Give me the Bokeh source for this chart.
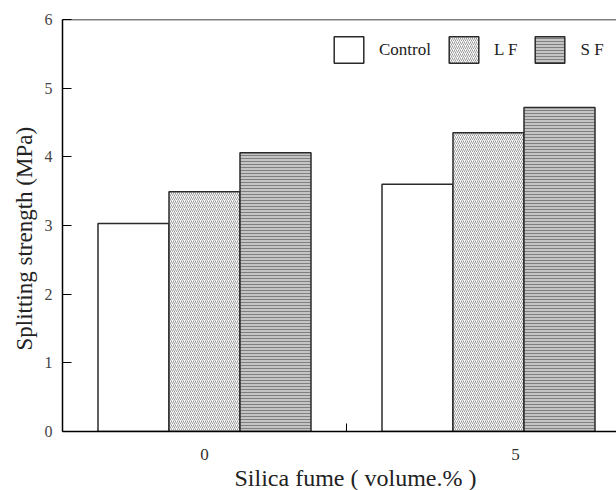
from bokeh.plotting import figure
from bokeh.models import FixedTicker, Span, Legend, LegendItem, ColumnDataSource, Title
from bokeh.embed import file_html
from bokeh.resources import INLINE

# data
groups = ["0", "5"]
series = ["Control", "L F", "S F"]
control = [3.03, 3.60]
lf = [3.49, 4.35]
sf = [4.06, 4.72]
y_ticks = [0, 1, 2, 3, 4, 5, 6]
x_title = "Silica fume ( volume.% )"
y_title = "Splitting strength (MPa)"

FONT = "'Liberation Serif', serif"

p = figure(width=616, height=490, output_backend="svg", toolbar_location=None,
           x_range=(-0.5, 1.4507), y_range=(0, 6),
           min_border_left=62, min_border_right=0, min_border_top=19, min_border_bottom=59)
p.outline_line_color = None
p.grid.visible = False
p.background_fill_color = "white"

group_pos = [0.0, 1.0]
bar_w = 0.25
offsets = [-0.25, 0.0, 0.25]
styles = [
    dict(fill_color="white"),
    dict(fill_color="white", hatch_pattern="/", hatch_color="#9a9a9a", hatch_scale=4, hatch_weight=1),
    dict(fill_color="#c4c4c4", hatch_pattern="-", hatch_color="#808080", hatch_scale=3, hatch_weight=1),
]
items = []
for vals, off, st, name in zip([control, lf, sf], offsets, styles, series):
    src = ColumnDataSource(dict(x=[g + off for g in group_pos], top=vals))
    r = p.vbar(x="x", top="top", width=bar_w, bottom=0, source=src,
               line_color="#2a2a2a", line_width=1.5, **st)
    items.append(LegendItem(label=name, renderers=[r]))

legend = Legend(items=items, orientation="horizontal", location=(268, 365),
                glyph_width=37, glyph_height=33, label_standoff=12, spacing=14,
                padding=0, margin=0, border_line_color=None, background_fill_alpha=0,
                label_text_font=FONT, label_text_font_size="17px", label_text_color="#222222")
p.add_layout(legend, "center")

# top frame line
p.add_layout(Span(location=6, dimension="width", line_color="black", line_width=1.5))

# x axis
xa = p.xaxis[0]
xa.ticker = FixedTicker(ticks=[0, 1.095], minor_ticks=[0.5])
xa.major_label_overrides = {0: "0", 1.095: "5"}
xa.major_tick_line_color = None
xa.minor_tick_in = 8
xa.minor_tick_out = 0
xa.minor_tick_line_color = "black"
xa.minor_tick_line_width = 1
xa.axis_line_color = "black"
xa.axis_line_width = 1.5
xa.major_label_standoff = 11
xa.major_label_text_font = FONT
xa.major_label_text_font_size = "17px"
xa.major_label_text_color = "#333333"

# y axis
ya = p.yaxis[0]
ya.ticker = FixedTicker(ticks=y_ticks)
ya.major_tick_in = 9
ya.major_tick_out = 0
ya.major_tick_line_color = "black"
ya.major_tick_line_width = 1
ya.minor_tick_line_color = None
ya.axis_line_color = "black"
ya.axis_line_width = 1.5
ya.major_label_standoff = 10
ya.major_label_text_font = FONT
ya.major_label_text_font_size = "16px"
ya.major_label_text_color = "#444444"

# axis titles (as side titles so they can be offset like the reference)
p.add_layout(Title(text=x_title, align="left", offset=172, standoff=0,
                   text_font=FONT, text_font_size="24px", text_font_style="normal",
                   text_color="#222222"), "below")
p.add_layout(Title(text=y_title, align="left", offset=81, standoff=9,
                   text_font=FONT, text_font_size="23px", text_font_style="normal",
                   text_color="#222222"), "left")

open("out.html", "w").write(file_html(p, INLINE))
